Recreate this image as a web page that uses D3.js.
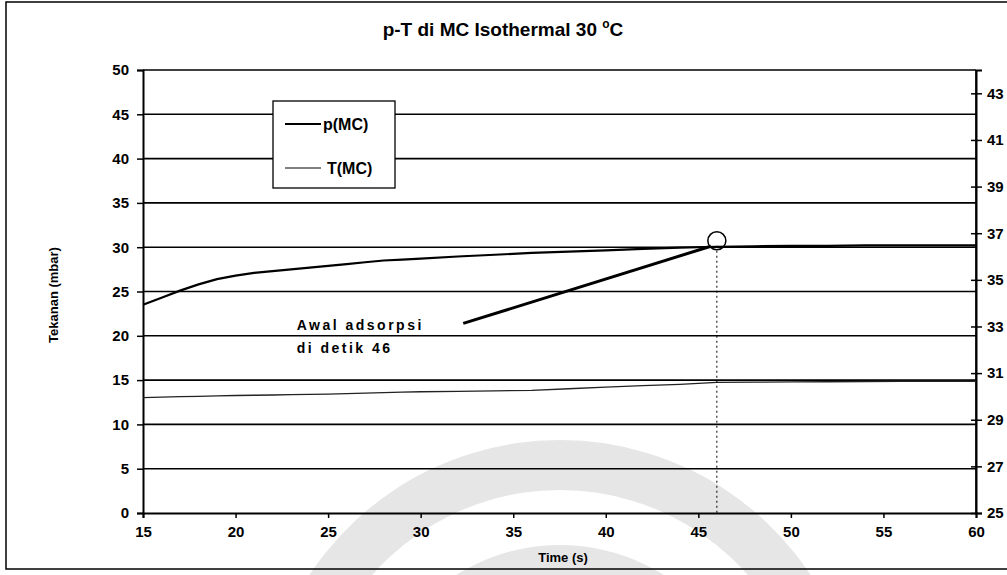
<!DOCTYPE html>
<html>
<head>
<meta charset="utf-8">
<script src="https://cdn.jsdelivr.net/npm/d3@7"></script>
<style>
  body { margin: 0; background: #fff; }
  svg { display: block; font-family: "Liberation Sans", Arial, sans-serif; }
</style>
</head>
<body>
<svg id="chart"></svg>
<script>
// data
const time = [15, 16, 17, 18, 19, 20, 21, 22, 23, 24, 25, 26, 27, 28, 29, 30,
  32, 34, 36, 38, 40, 42, 44, 46, 48, 50, 52, 54, 56, 58, 60];
const pressure = [23.5, 24.3, 25.1, 25.8, 26.4, 26.8, 27.1, 27.3, 27.5, 27.7, 27.9, 28.1, 28.3, 28.5, 28.6, 28.7,
  28.95, 29.15, 29.35, 29.5, 29.65, 29.8, 29.95, 30.05, 30.1, 30.15, 30.15, 30.2, 30.2, 30.2, 30.2];
const temperature = [29.95, 29.97, 29.99, 30.0, 30.02, 30.04, 30.05, 30.06, 30.08, 30.09, 30.1, 30.12, 30.14, 30.16, 30.18, 30.2,
  30.22, 30.24, 30.26, 30.33, 30.4, 30.46, 30.52, 30.6, 30.61, 30.62, 30.63, 30.64, 30.65, 30.65, 30.65];
const xTicks = [15, 20, 25, 30, 35, 40, 45, 50, 55, 60];
const leftTicks = [0, 5, 10, 15, 20, 25, 30, 35, 40, 45, 50];
const rightTicks = [25, 27, 29, 31, 33, 35, 37, 39, 41, 43];
const seriesNames = ["p(MC)", "T(MC)"];
const markTime = 46;
const markText = ["Awal adsorpsi", "di detik 46"];

const W = 1007, H = 575;
const margin = { top: 70, right: 31, bottom: 62, left: 143 };
const width = W - margin.left - margin.right;
const height = H - margin.top - margin.bottom;

const svg = d3.select("#chart").attr("width", W).attr("height", H);

// faint watermark in the scan
const wm = svg.append("g").attr("fill", "#e6e6e6");
const arc = d3.arc();
wm.append("path").attr("transform", "translate(560,740)")
  .attr("d", arc({ innerRadius: 250, outerRadius: 300, startAngle: -1.2, endAngle: 1.2 }));
wm.append("path").attr("transform", "translate(560,740)")
  .attr("d", arc({ innerRadius: 150, outerRadius: 195, startAngle: -0.9, endAngle: 0.9 }));

// outer frame
svg.append("rect").attr("x", 6).attr("y", 2).attr("width", W).attr("height", 567)
  .attr("fill", "none").attr("stroke", "#000").attr("stroke-width", 1.5);

const g = svg.append("g").attr("transform", `translate(${margin.left},${margin.top})`);

const x = d3.scaleLinear().domain([15, 60]).range([0, width]);
const y = d3.scaleLinear().domain([0, 50]).range([height, 0]);
const y2 = d3.scaleLinear().domain([25, 44]).range([height, 0]);

// gridlines
g.append("g").selectAll("line").data(leftTicks.filter(d => d > 0)).join("line")
  .attr("x1", 0).attr("x2", width)
  .attr("y1", d => y(d)).attr("y2", d => y(d))
  .attr("stroke", "#000").attr("stroke-width", 1.6);

// right border
g.append("line").attr("x1", width).attr("x2", width).attr("y1", 0).attr("y2", height)
  .attr("stroke", "#000").attr("stroke-width", 1.6);

// axes
const xAxis = g.append("g").attr("transform", `translate(0,${height})`)
  .call(d3.axisBottom(x).tickValues(xTicks).tickSize(5).tickPadding(8));
const yAxis = g.append("g")
  .call(d3.axisLeft(y).tickValues(leftTicks).tickSize(6).tickPadding(8));
const y2Axis = g.append("g").attr("transform", `translate(${width},0)`)
  .call(d3.axisRight(y2).tickValues(rightTicks).tickSize(6).tickPadding(5));
y2Axis.selectAll(".tick line").attr("x1", -5);

[xAxis, yAxis, y2Axis].forEach(a => {
  a.select(".domain").attr("stroke-width", 2);
  a.selectAll(".tick line").attr("stroke-width", 1.5);
  a.selectAll("text").attr("font-size", 15).attr("font-weight", "bold").attr("fill", "#000");
});

// series
const line = d3.line().x((d, i) => x(time[i]));
g.append("path").datum(pressure)
  .attr("fill", "none").attr("stroke", "#000").attr("stroke-width", 2.2)
  .attr("d", line.y(d => y(d)));
g.append("path").datum(temperature)
  .attr("fill", "none").attr("stroke", "#222").attr("stroke-width", 1.3)
  .attr("d", d3.line().x((d, i) => x(time[i])).y(d => y2(d)));

// annotation at t = 46
const pAt = pressure[time.indexOf(markTime)];
g.append("line").attr("x1", x(markTime)).attr("x2", x(markTime))
  .attr("y1", y(pAt) - 1).attr("y2", height)
  .attr("stroke", "#000").attr("stroke-width", 1).attr("stroke-dasharray", "2,3");
g.append("circle").attr("cx", x(markTime)).attr("cy", y(pAt) - 6).attr("r", 9)
  .attr("fill", "none").attr("stroke", "#000").attr("stroke-width", 1.5);
g.append("line").attr("x1", x(32.3)).attr("y1", y(21.4))
  .attr("x2", x(markTime) - 6).attr("y2", y(pAt) - 0.5)
  .attr("stroke", "#000").attr("stroke-width", 3);
g.selectAll(".note").data(markText).join("text")
  .attr("x", x(23.3)).attr("y", (d, i) => y(20.6) + i * 23)
  .attr("font-size", 14).attr("letter-spacing", 2.5)
  .attr("font-weight", "bold").text(d => d);

// legend
const leg = svg.append("g").attr("transform", "translate(273,101)");
leg.append("rect").attr("width", 122).attr("height", 87)
  .attr("fill", "#fff").attr("stroke", "#000").attr("stroke-width", 1.3);
leg.selectAll(".li").data(seriesNames).join("g")
  .attr("transform", (d, i) => `translate(12,${23 + i * 44})`)
  .each(function (d, i) {
    const s = d3.select(this);
    s.append("line").attr("x1", 0).attr("x2", 36)
      .attr("stroke", "#000").attr("stroke-width", i === 0 ? 2 : 1);
    s.append("text").attr("x", i === 0 ? 38 : 42).attr("dy", "0.36em")
      .attr("font-size", 16).attr("font-weight", "bold").text(d);
  });

// titles
const title = svg.append("text").attr("x", 503).attr("y", 36).attr("text-anchor", "middle")
  .attr("font-size", 19).attr("font-weight", "bold");
title.append("tspan").text("p-T di MC Isothermal 30 ");
title.append("tspan").attr("dy", -8).attr("font-size", 12).text("o");
title.append("tspan").attr("dy", 8).text("C");

svg.append("text").attr("x", 563).attr("y", 562).attr("text-anchor", "middle")
  .attr("font-size", 13).attr("font-weight", "bold").text("Time (s)");
svg.append("text").attr("transform", "translate(58,295) rotate(-90)")
  .attr("text-anchor", "middle").attr("font-size", 13).attr("font-weight", "bold")
  .text("Tekanan (mbar)");
</script>
</body>
</html>
